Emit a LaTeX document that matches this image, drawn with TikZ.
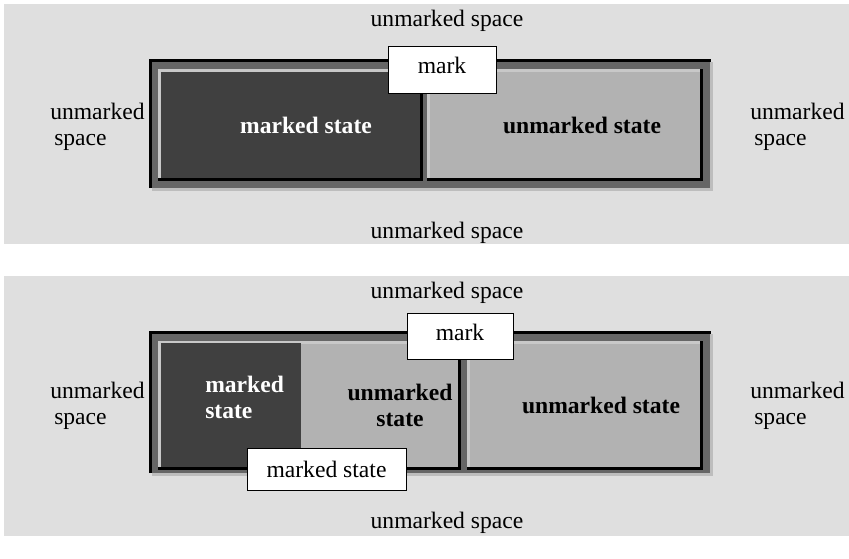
\documentclass[tikz,border=0pt]{standalone}
\usepackage{fontspec}
\setmainfont{Liberation Serif}
\newfontfamily\timesfont{Liberation Serif}
\usetikzlibrary{positioning}
\definecolor{spacegray}{HTML}{DFDFDF}
\definecolor{bandgray}{HTML}{666666}
\definecolor{shadegray}{HTML}{BDBDBD}
\definecolor{darkcell}{HTML}{404040}
\definecolor{lightcell}{HTML}{B2B2B2}
\definecolor{hilitegray}{HTML}{C8C8C8}

\begin{document}
\begin{tikzpicture}[x=0.75pt,y=-0.75pt]
\tikzset{font={\timesfont\fontsize{17.7}{19.5}\selectfont}}
\tikzset{spacetext/.style={inner sep=0pt,anchor=base},
  celltext/.style={inner sep=0pt,anchor=base,font={\timesfont\fontsize{17.7}{19.5}\selectfont\bfseries}},
  markbox/.style={draw,fill=white,line width=0.75pt,inner sep=0pt,text depth=6pt},
  hilite/.style={hilitegray,line width=1.875pt},
  lowlite/.style={black,line width=2.6pt},
  frameline/.style={black,line width=2.25pt}}
\useasboundingbox (0,0) rectangle (849,558);

%Space
\fill[spacegray] (4,4) rectangle (849,244);
\fill[spacegray] (4,276) rectangle (849,536);

%Frames
\foreach \ya/\yb in {59/188,331/473}
{
\fill[shadegray] (152,\ya+3) rectangle (713,\yb+3);
\fill[bandgray] (149,\ya) rectangle (710,\yb);
\draw[frameline] (150.5,\yb) -- (150.5,\ya+1.5) -- (711,\ya+1.5);
}

%Cells
\foreach \xa/\ya/\xb/\yb/\col in {158/69/423/181/darkcell,427/69/703/181/lightcell,158/341/461/470/lightcell,467/341/703/470/lightcell}
{
\fill[\col] (\xa,\ya) rectangle (\xb,\yb);
\draw[hilite] (\xa+1.25,\yb) -- (\xa+1.25,\ya+1.25) -- (\xb,\ya+1.25);
\draw[lowlite] (\xa,\yb-1.75) -- (\xb-1.75,\yb-1.75) -- (\xb-1.75,\ya);
}
\fill[darkcell] (161,343) rectangle (301,467);

% Top
\node[spacetext] (topabove) at (447,26) {unmarked space};
\node[spacetext] (topbelow) at (447,238) {unmarked space};
\node[spacetext,anchor=base west,align=left] (topleft) at (50,145) {unmarked\\\hspace{3pt}space};
\node[spacetext,anchor=base west,align=left] (topright) at (750,145) {unmarked\\\hspace{3pt}space};
\node[celltext,white] (topmarked) at (306,133) {marked state};
\node[celltext] (topunmarked) at (582,133) {unmarked state};
\node[markbox,minimum width=81pt,minimum height=35.25pt] (topmark) at (442,69.5) {mark};

% Bottom
\node[spacetext] (botabove) at (447,298) {unmarked space};
\node[spacetext] (botbelow) at (447,528) {unmarked space};
\node[spacetext,anchor=base west,align=left] (botleft) at (50,424) {unmarked\\\hspace{3pt}space};
\node[spacetext,anchor=base west,align=left] (botright) at (750,424) {unmarked\\\hspace{3pt}space};
\node[celltext,white,anchor=base west,align=left] (botmarked) at (205,418) {marked\\state};
\node[celltext,align=center] (botunmarkedA) at (400,426) {unmarked\\state};
\node[celltext] (botunmarkedB) at (601,413) {unmarked state};
\node[markbox,minimum width=79.5pt,minimum height=34.5pt] (botmark) at (460,336) {mark};
\node[markbox,minimum width=119.25pt,minimum height=31.5pt,text depth=0pt] (botmarkedstate) at (326.5,469) {marked state};
\end{tikzpicture}
\end{document}
